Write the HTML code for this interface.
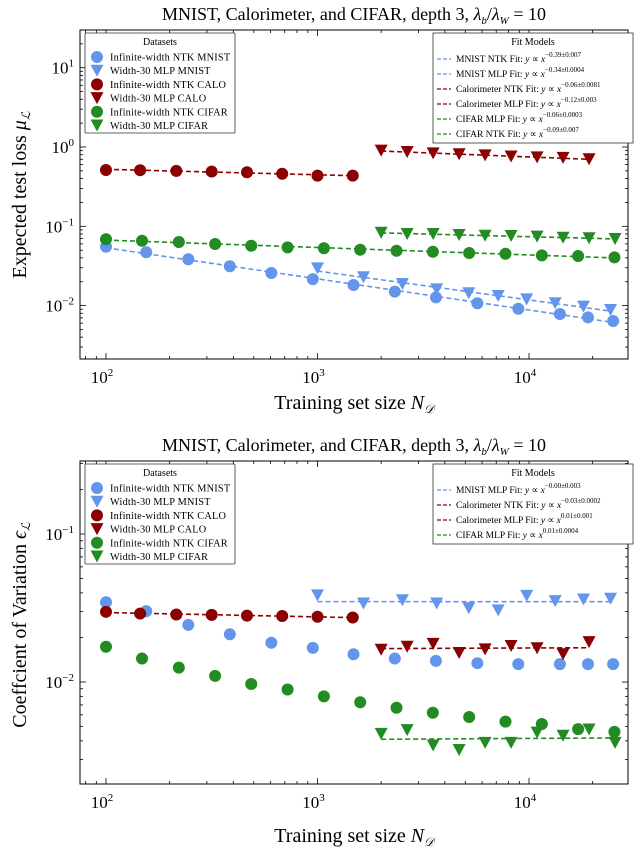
<!DOCTYPE html>
<html><head><meta charset="utf-8"><style>
html,body{margin:0;padding:0;background:#fff}
svg{display:block;font-family:"Liberation Serif",serif}
</style></head><body>
<svg id="fig" width="640" height="856" viewBox="0 0 640 856"></svg>
<script>
// ---- data: top panel (expected test loss) ----
const mnistNtkX=[100,155,245,385,605,950,1480,2320,3630,5700,8900,14000,19000,25000];
const mnistMlpX=[1000,1650,2520,3660,5190,7150,9750,13300,18100,24300];
const caloNtkX=[100,145,215,316,464,681,1000,1468];
const caloMlpX=[2000,2654,3522,4673,6201,8229,10920,14490,19230];
const cifarNtkX=[100,148,221,328,486,722,1072,1592,2364,3510,5213,7741,11500,17070,25350];
const cifarMlpX=[2000,2654,3522,4673,6201,8229,10920,14490,19230,25520];
const topMnistNtk=[0.0553,0.047,0.0384,0.0313,0.0258,0.0216,0.0182,0.015,0.0127,0.0107,0.00914,0.00783,0.00711,0.0064];
const topMnistMlp=[0.0295,0.0228,0.0187,0.016,0.0143,0.0132,0.012,0.0107,0.0097,0.0088];
const topCaloNtk=[0.513,0.51,0.50,0.49,0.48,0.46,0.435,0.435];
const topCaloMlp=[0.90,0.865,0.83,0.81,0.785,0.76,0.74,0.73,0.70];
const topCifarNtk=[0.0686,0.0658,0.0634,0.0598,0.0569,0.0543,0.0528,0.0507,0.0492,0.0478,0.046,0.0451,0.043,0.0422,0.0406];
const topCifarMlp=[0.083,0.080,0.080,0.0777,0.076,0.0755,0.074,0.0718,0.0706,0.0692];
// ---- data: bottom panel (coefficient of variation) ----
const botMnistNtk=[0.0346,0.0301,0.0243,0.0210,0.0184,0.0170,0.0154,0.0144,0.0139,0.0134,0.0132,0.0132,0.0132,0.0132];
const botMnistMlp=[0.0385,0.0339,0.0357,0.0339,0.0315,0.0305,0.0382,0.0352,0.0361,0.0365];
const botCaloNtk=[0.0298,0.0290,0.0286,0.0284,0.0281,0.0279,0.0276,0.0273];
const botCaloMlp=[0.0165,0.0173,0.0181,0.0157,0.0166,0.0175,0.0169,0.0154,0.0186];
const botCifarNtk=[0.0173,0.0144,0.0125,0.0110,0.0097,0.0089,0.0080,0.0073,0.0067,0.0062,0.0058,0.0054,0.0052,0.0048,0.0046];
const botCifarMlp=[0.00446,0.00473,0.00372,0.00347,0.00388,0.00388,0.00455,0.00433,0.00478,0.00388];
const xTickLabels=["2","3","4"];

const NS="http://www.w3.org/2000/svg";
const svg=document.getElementById('fig');
const BLUE="#6495ED",RED="#8B0000",GREEN="#228B22";
function mk(tag,attrs,parent){const e=document.createElementNS(NS,tag);for(const k in attrs)e.setAttribute(k,attrs[k]);(parent||svg).appendChild(e);return e;}
const L=80,R=628;
const xs=v=>106+211.5*(Math.log10(v)-2);
const panels=[
 {top:30,bot:359,ys:v=>147-79.3*Math.log10(v),lo:-3,hi:2,yl:[1,0,-1,-2]},
 {top:461,bot:784,ys:v=>534-148*(Math.log10(v)+1),lo:-3,hi:0,yl:[-1,-2]}
];
function axes(p,name){
 const g=mk('g',{});
 
 
 mk('rect',{x:L,y:p.top,width:R-L,height:p.bot-p.top,fill:'none',stroke:'#000','stroke-width':1},g);
 for(let d=1;d<=5;d++)for(let m=1;m<10;m++){const v=Math.pow(10,d)*m;const x=xs(v);if(x<L||x>R)continue;const len=m==1?6:3;
  mk('line',{x1:x,x2:x,y1:p.bot,y2:p.bot-len,stroke:'#000','stroke-width':0.8},g);
  mk('line',{x1:x,x2:x,y1:p.top,y2:p.top+len,stroke:'#000','stroke-width':0.8},g);}
 for(let d=p.lo;d<=p.hi;d++)for(let m=1;m<10;m++){const v=Math.pow(10,d)*m;const y=p.ys(v);if(y<p.top||y>p.bot)continue;const len=m==1?6:3;
  mk('line',{x1:L,x2:L+len,y1:y,y2:y,stroke:'#000','stroke-width':0.8},g);
  mk('line',{x1:R,x2:R-len,y1:y,y2:y,stroke:'#000','stroke-width':0.8},g);}
 xTickLabels.forEach(e=>{const t=mk('text',{x:xs(Math.pow(10,+e))-4,y:p.bot+24,'font-size':17,'text-anchor':'middle'},g);
  
  t.innerHTML='10<tspan font-size="11" dy="-7">'+e+'</tspan>';});
 p.yl.forEach(e=>{const t=mk('text',{x:74,y:p.ys(Math.pow(10,e))+6,'font-size':17,'text-anchor':'end'},g);
  
  t.innerHTML='10<tspan font-size="11" dy="-7">'+(e<0?'\u2212'+(-e):e)+'</tspan>';});
}
function marker(g,type,x,y,c){
 if(type=='o')return mk('circle',{cx:x,cy:y,r:6,fill:c},g);
 return mk('path',{d:`M${x-6.5},${y-6} L${x+6.5},${y-6} L${x},${y+6} Z`,fill:c},g);
}
function series(p,xarr,yarr,type,c,name){
 const g=mk('g',{});
 
 
 xarr.forEach((xv,i)=>{const m=marker(g,type,xs(xv),p.ys(yarr[i]),c);
  });
}
function fit(p,xarr,yarr,c,name){
 const lx=xarr.map(Math.log10),ly=yarr.map(Math.log10);const n=lx.length;
 const mx=lx.reduce((a,b)=>a+b)/n,my=ly.reduce((a,b)=>a+b)/n;
 let sxy=0,sxx=0;for(let i=0;i<n;i++){sxy+=(lx[i]-mx)*(ly[i]-my);sxx+=(lx[i]-mx)**2;}
 const b=sxy/sxx,a=my-b*mx;const x0=xarr[0],x1=xarr[n-1];
 const l=mk('line',{x1:xs(x0),x2:xs(x1),y1:p.ys(Math.pow(10,a+b*Math.log10(x0))),y2:p.ys(Math.pow(10,a+b*Math.log10(x1))),stroke:c,'stroke-width':1.6,'stroke-dasharray':'5,3'});
 
}
function text(x,y,s,size,name,extra){const t=mk('text',Object.assign({x:x,y:y,'font-size':size},extra||{}));t.innerHTML=s;
 return t;}
function legends(p,fitEntries){
 const g=mk('g',{});
 
 
 const y0=p.top+3;
 mk('rect',{x:85,y:y0,width:150,height:100,fill:'#fff',stroke:'#333','stroke-width':0.8,rx:1},g);
 text(160,y0+12,'Datasets',10,'legend-title',{'text-anchor':'middle'});
 const ds=[['o',BLUE,'Infinite-width NTK MNIST'],['v',BLUE,'Width-30 MLP MNIST'],['o',RED,'Infinite-width NTK CALO'],['v',RED,'Width-30 MLP CALO'],['o',GREEN,'Infinite-width NTK CIFAR'],['v',GREEN,'Width-30 MLP CIFAR']];
 ds.forEach((d,i)=>{const y=y0+24+i*13.7;marker(g,d[0],97,y,d[1]);text(110,y+3.5,d[2],10.3,'legend-entry',{'letter-spacing':'0.2'});});
 const g2=mk('g',{});
 
 
 const h=20+fitEntries.length*15;
 mk('rect',{x:433,y:y0,width:200,height:h,fill:'#fff',stroke:'#333','stroke-width':0.8},g2);
 text(533,y0+12,'Fit Models',10,'legend-title',{'text-anchor':'middle'});
 fitEntries.forEach((f,i)=>{const y=y0+26+i*15;mk('line',{x1:437,x2:451,y1:y,y2:y,stroke:f[0],'stroke-width':1.3,'stroke-dasharray':'4,2'},g2);
  text(456,y+3,f[1]+' Fit: <tspan font-style="italic">y</tspan> ∝ <tspan font-style="italic">x</tspan><tspan font-size="7" dy="-5">'+f[2]+'</tspan>',9.5,'legend-entry');});
}
// titles
const title='MNIST, Calorimeter, and CIFAR, depth 3, <tspan font-style="italic">λ</tspan><tspan font-size="11" dy="4" font-style="italic">b</tspan><tspan dy="-4">/</tspan><tspan font-style="italic">λ</tspan><tspan font-size="11" dy="4" font-style="italic">W</tspan><tspan dy="-4"> = 10</tspan>';
text(354,20,title,18,'top-chart-title',{'text-anchor':'middle'});
text(354,451,title,18,'bottom-chart-title',{'text-anchor':'middle'});
const p1=panels[0],p2=panels[1];
axes(p1,'top');axes(p2,'bottom');
text(354,409,'Training set size <tspan font-style="italic">N</tspan><tspan font-size="12" dy="4" font-style="italic">𝒟</tspan>',20,'top-x-axis-title',{'text-anchor':'middle'});
text(354,842,'Training set size <tspan font-style="italic">N</tspan><tspan font-size="12" dy="4" font-style="italic">𝒟</tspan>',20,'bottom-x-axis-title',{'text-anchor':'middle'});
text(0,0,'Expected test loss <tspan font-style="italic">μ</tspan><tspan font-size="12" dy="4" font-style="italic">ℒ</tspan>',20,'top-y-axis-title',{'text-anchor':'middle',transform:'translate(26,195) rotate(-90)'});
text(0,0,'Coeffcient of Variation <tspan font-style="italic">ϵ</tspan><tspan font-size="12" dy="4" font-style="italic">ℒ</tspan>',20,'bottom-y-axis-title',{'text-anchor':'middle',transform:'translate(26,625) rotate(-90)'});
// top series
fit(p1,mnistNtkX,topMnistNtk,BLUE,'fit-mnist-ntk');fit(p1,mnistMlpX,topMnistMlp,BLUE,'fit-mnist-mlp');
fit(p1,caloNtkX,topCaloNtk,RED,'fit-calo-ntk');fit(p1,caloMlpX,topCaloMlp,RED,'fit-calo-mlp');
fit(p1,cifarNtkX,topCifarNtk,GREEN,'fit-cifar-ntk');fit(p1,cifarMlpX,topCifarMlp,GREEN,'fit-cifar-mlp');
series(p1,mnistNtkX,topMnistNtk,'o',BLUE,'top-mnist-ntk');series(p1,mnistMlpX,topMnistMlp,'v',BLUE,'top-mnist-mlp');
series(p1,caloNtkX,topCaloNtk,'o',RED,'top-calo-ntk');series(p1,caloMlpX,topCaloMlp,'v',RED,'top-calo-mlp');
series(p1,cifarNtkX,topCifarNtk,'o',GREEN,'top-cifar-ntk');series(p1,cifarMlpX,topCifarMlp,'v',GREEN,'top-cifar-mlp');
// bottom series
fit(p2,mnistMlpX,botMnistMlp,BLUE,'fit-mnist-mlp-cv');fit(p2,caloNtkX,botCaloNtk,RED,'fit-calo-ntk-cv');
fit(p2,caloMlpX,botCaloMlp,RED,'fit-calo-mlp-cv');fit(p2,cifarMlpX,botCifarMlp,GREEN,'fit-cifar-mlp-cv');
series(p2,mnistNtkX,botMnistNtk,'o',BLUE,'bottom-mnist-ntk');series(p2,mnistMlpX,botMnistMlp,'v',BLUE,'bottom-mnist-mlp');
series(p2,caloNtkX,botCaloNtk,'o',RED,'bottom-calo-ntk');series(p2,caloMlpX,botCaloMlp,'v',RED,'bottom-calo-mlp');
series(p2,cifarNtkX,botCifarNtk,'o',GREEN,'bottom-cifar-ntk');series(p2,cifarMlpX,botCifarMlp,'v',GREEN,'bottom-cifar-mlp');
legends(p1,[[BLUE,'MNIST NTK','−0.39±0.007'],[BLUE,'MNIST MLP','−0.34±0.0004'],[RED,'Calorimeter NTK','−0.06±0.0081'],[RED,'Calorimeter MLP','−0.12±0.003'],[GREEN,'CIFAR MLP','−0.06±0.0003'],[GREEN,'CIFAR NTK','−0.09±0.007']]);
legends(p2,[[BLUE,'MNIST MLP','−0.00±0.003'],[RED,'Calorimeter NTK','−0.03±0.0002'],[RED,'Calorimeter MLP','0.01±0.001'],[GREEN,'CIFAR MLP','0.01±0.0004']]);
</script>
</body></html>
